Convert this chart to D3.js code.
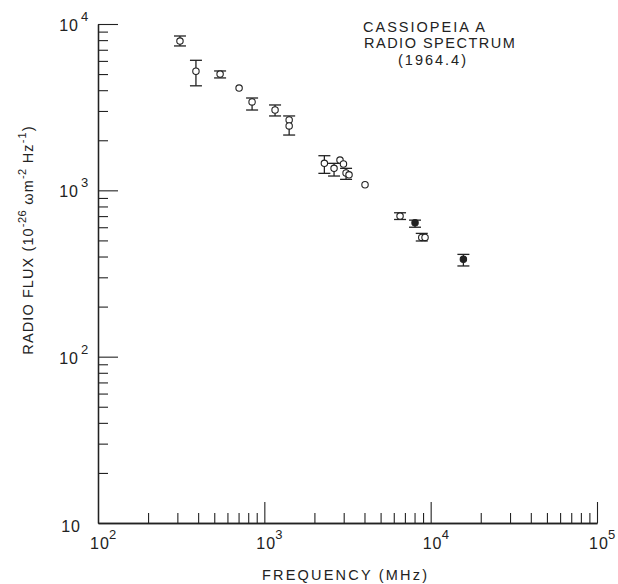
<!DOCTYPE html>
<html><head><meta charset="utf-8">
<script src="https://cdn.jsdelivr.net/npm/d3@7"></script>
<style>
body{margin:0;background:#fff;}
svg text{font-family:"Liberation Sans",Arial,sans-serif;fill:#222;}
</style></head>
<body><svg id="c" width="618" height="584"></svg>
<script>
// Data (frequency in MHz, flux in 10^-26 W m^-2 Hz^-1)
const freq   = [311, 388, 542, 705, 844, 1160, 1410, 1410, 2296, 2625, 2850, 2990, 3100, 3230, 4030, 6545, 8054, 8840, 9250, 15730];
const flux   = [7900, 5200, 5000, 4120, 3400, 3040, 2650, 2440, 1453, 1356, 1521, 1440, 1271, 1240, 1080, 700, 638, 521, 521, 385];
const errLo  = [7380, 4250, 4740, null, 3040, 2800, 2150, null, 1265, 1219, null, null, 1164, null, null, 668, 600, 496, null, 351];
const errHi  = [8470, 6050, 5220, null, 3590, 3260, 2800, null, 1615, 1453, null, null, 1356, null, null, 733, 662, 551, null, 412];
const filled = [0,0,0,0,0,0,0,0,0,0,0,0,0,0,0,0,1,0,0,1];
const xMajor = [100, 1000, 10000, 100000];
const yMajor = [10, 100, 1000, 10000];
const xLabelExp = ["2","3","4","5"];
const yLabelExp = ["","2","3","4"];
const titleLines = ["CASSIOPEIA A", "RADIO SPECTRUM", "(1964.4)"];

const svg = d3.select("#c");
const x = d3.scaleLog().domain([100, 100000]).range([98, 597]);
const y = d3.scaleLog().domain([10, 10000]).range([523, 24]);

function minors(lo, hi){const a=[];for(let d=lo;d<hi;d*=10)for(let k=2;k<=9;k++)a.push(d*k);return a;}
const col="#222";

// y axis
const gy = svg.append("g").attr("transform","translate(98,0)");
gy.call(d3.axisLeft(y).tickValues(minors(10,10000)).tickSize(-10).tickSizeOuter(0).tickFormat(""));
gy.append("g").call(d3.axisLeft(y).tickValues(yMajor.slice(1)).tickSize(-20).tickSizeOuter(0).tickFormat(""));
// x axis
const gx = svg.append("g").attr("transform","translate(0,523)");
gx.call(d3.axisBottom(x).tickValues(minors(100,100000)).tickSize(-10).tickSizeOuter(0).tickFormat(""));
gx.append("g").call(d3.axisBottom(x).tickValues(xMajor.slice(1)).tickSize(-21).tickSizeOuter(0).tickFormat(""));
svg.selectAll(".domain").attr("stroke",col).attr("stroke-width",1.3);
svg.selectAll(".tick line").attr("stroke",col).attr("stroke-width",1.1);

// y labels
yMajor.forEach((v,i)=>{
  const t = svg.append("text").attr("x", yLabelExp[i] ? 79 : 81).attr("y", y(v)+ (yLabelExp[i]?7:9))
    .attr("text-anchor","end").attr("font-size",16).attr("letter-spacing",1);
  t.text("10");
  if(yLabelExp[i]) svg.append("text").attr("x",81).attr("y",y(v)-3).attr("font-size",13).text(yLabelExp[i]);
});
// x labels
xMajor.forEach((v,i)=>{
  const cx = x(v);
  svg.append("text").attr("x",cx-8).attr("y",549).attr("font-size",16).attr("letter-spacing",1).text("10");
  svg.append("text").attr("x",cx+11).attr("y",539).attr("font-size",13).text(xLabelExp[i]);
});

// axis titles
svg.append("text").attr("x",262).attr("y",580).attr("font-size",14.5).attr("letter-spacing",2.2).text("FREQUENCY (MHz)");
const yt = svg.append("text").attr("transform","translate(33,240) rotate(-90)").attr("text-anchor","middle")
  .attr("font-size",14.5).attr("letter-spacing",1.1);
yt.append("tspan").text("RADIO FLUX (10");
yt.append("tspan").attr("dy",-7).attr("font-size",11).attr("letter-spacing",0.5).text("-26");
yt.append("tspan").attr("dy",7).text(" ωm");
yt.append("tspan").attr("dy",-7).attr("font-size",11).attr("letter-spacing",0.5).text("-2");
yt.append("tspan").attr("dy",7).text(" Hz");
yt.append("tspan").attr("dy",-7).attr("font-size",11).text("-1");
yt.append("tspan").attr("dy",7).text(")");

// title
const tx=[363,364,398], ty=[32,48,65], tls=[2,1.5,2];
titleLines.forEach((s,i)=>svg.append("text").attr("x",tx[i]).attr("y",ty[i]).attr("font-size",14.5).attr("letter-spacing",tls[i]).text(s));

// points
const data = freq.map((f,i)=>({f, s:flux[i], lo:errLo[i], hi:errHi[i], fill:filled[i]}));
const eb = svg.append("g").attr("stroke",col).attr("stroke-width",1.3);
data.filter(d=>d.lo!=null).forEach(d=>{
  const cx=x(d.f);
  eb.append("line").attr("x1",cx).attr("x2",cx).attr("y1",y(d.lo)).attr("y2",y(d.hi));
  eb.append("line").attr("x1",cx-6).attr("x2",cx+6).attr("y1",y(d.lo)).attr("y2",y(d.lo));
  eb.append("line").attr("x1",cx-6).attr("x2",cx+6).attr("y1",y(d.hi)).attr("y2",y(d.hi));
});
svg.append("g").selectAll("circle").data(data).join("circle")
  .attr("cx",d=>x(d.f)).attr("cy",d=>y(d.s)).attr("r",3.2)
  .attr("fill",d=>d.fill?col:"#fff").attr("stroke",col).attr("stroke-width",1.1);
</script></body></html>
